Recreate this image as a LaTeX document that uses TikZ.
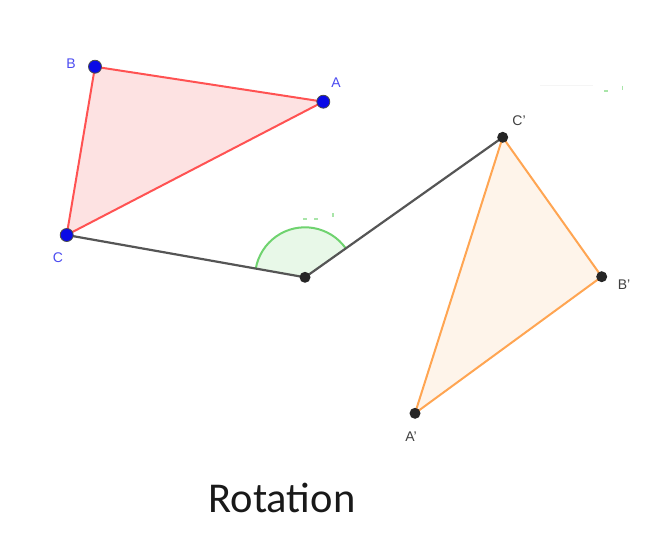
\documentclass[tikz,border=0pt]{standalone}
\usepackage{fontspec}
\setmainfont{Liberation Sans}
\newfontfamily\capfont{Carlito}
\definecolor{redline}{HTML}{FF5252}
\definecolor{redfill}{HTML}{FDE2E2}
\definecolor{orline}{HTML}{FFA552}
\definecolor{orfill}{HTML}{FEF4EA}
\definecolor{ptblue}{HTML}{0A0AE6}
\definecolor{lblblue}{HTML}{4B4BF0}
\definecolor{segray}{HTML}{555555}
\definecolor{grline}{HTML}{6FD36F}
\definecolor{grfill}{HTML}{E8F8E8}
\tikzset{
  bpt/.style={circle, fill=ptblue, draw=black!70, line width=0.8pt, inner sep=0pt, minimum size=13pt},
  kpt/.style={circle, fill=black!85, inner sep=0pt, minimum size=11pt},
  blbl/.style={text=lblblue, font=\fontsize{14}{14}\selectfont, inner sep=0pt},
  klbl/.style={text=black!75, font=\fontsize{14}{14}\selectfont, inner sep=0pt},
  seg/.style={draw=segray, line width=2.2pt},
  straymark/.style={draw=grline!60, line width=1.3pt}
}
\begin{document}
\begin{tikzpicture}[x=1pt, y=-1pt]
\useasboundingbox (0,0) rectangle (650,552);
% coordinates
\coordinate (pA) at (323.3,101.7);
\coordinate (pB) at (95,66.7);
\coordinate (pC) at (66.7,235);
\coordinate (pO) at (305,277.3);
\coordinate (pAp) at (415,413.3);
\coordinate (pBp) at (601.7,276.7);
\coordinate (pCp) at (502.7,137.3);
% triangles
\filldraw[fill=redfill, draw=redline, line width=2pt, line join=round] (pA) -- (pB) -- (pC) -- cycle;
\filldraw[fill=orfill, draw=orline, line width=2pt, line join=round] (pAp) -- (pBp) -- (pCp) -- cycle;
% angle sector
\fill[grfill] (pO) -- ++(35.3:50pt) arc[start angle=35.3, end angle=169.9, radius=50pt] -- cycle;
\draw[grline, line width=2pt] (pO) ++(35.3:50pt) arc[start angle=35.3, end angle=169.9, radius=50pt];
% segments
\draw[seg] (pC) -- (pO);
\draw[seg] (pO) -- (pCp);
% stray marks
\draw[straymark] (303,219) -- (307,219);
\draw[straymark] (314,219) -- (318,219);
\draw[straymark] (333,213) -- (333,217);
\draw[straymark] (604,91) -- (608,91);
\draw[straymark] (622.7,85.5) -- (622.7,90);
\draw[black!4, line width=0.8pt] (540,85) -- (593,85);
% points
\node[bpt] (A) at (pA) {};
\node[bpt] (B) at (pB) {};
\node[bpt] (C) at (pC) {};
\node[kpt] (O) at (pO) {};
\node[kpt] (Ap) at (pAp) {};
\node[kpt] (Bp) at (pBp) {};
\node[kpt] (Cp) at (pCp) {};
% labels
\node[blbl] (lA) at (336,83) {A};
\node[blbl] (lB) at (71,64) {B};
\node[blbl] (lC) at (58,258) {C};
\node[klbl] (lAp) at (411,437) {A'};
\node[klbl] (lBp) at (624,285) {B'};
\node[klbl] (lCp) at (519,121) {C'};
% caption
\node[font=\capfont\fontsize{42.5}{42.5}\selectfont, text=black!90, anchor=base] (cap) at (282,512) {Rotation};
\end{tikzpicture}
\end{document}
